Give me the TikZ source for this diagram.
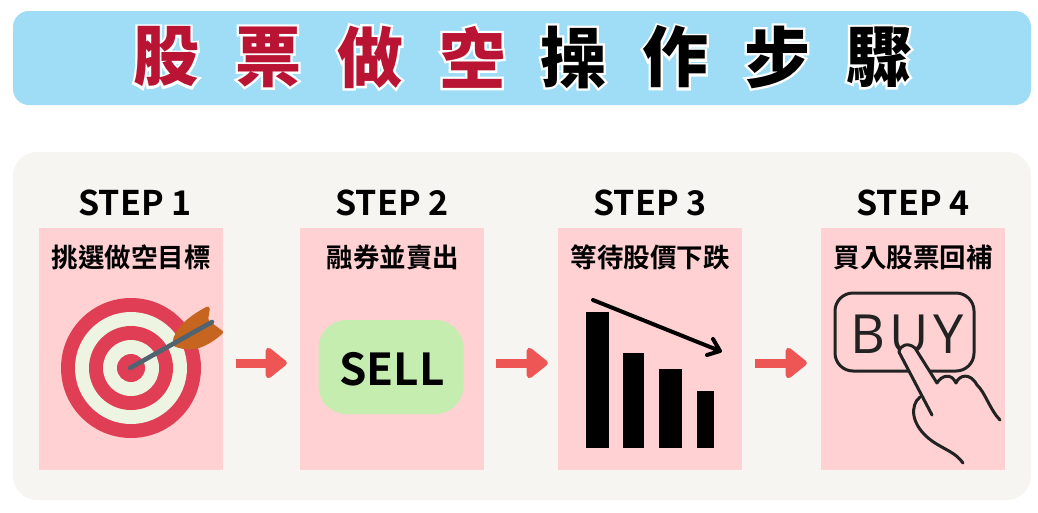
\documentclass[tikz,border=0pt]{standalone}
\usepackage{fontspec}
\usetikzlibrary{arrows.meta}
\setmainfont{Open Sans}
\newfontfamily\cjkb{Noto Sans CJK TC Bold}
\newfontfamily\cjkt{Noto Sans CJK TC Black}
\newfontfamily\cjko[FakeBold=7]{Noto Sans CJK TC Black}
\newfontfamily\buyf{Open Sans}
\definecolor{barblue}{HTML}{9FDDF7}
\definecolor{panelbg}{HTML}{F7F5F1}
\definecolor{pinkbg}{HTML}{FFD1D3}
\definecolor{crimson}{HTML}{B91433}
\definecolor{tred}{HTML}{E03E55}
\definecolor{tcream}{HTML}{EEF4E2}
\definecolor{fletch}{HTML}{C5651F}
\definecolor{shaftc}{HTML}{4F6470}
\definecolor{arrowred}{HTML}{EE5555}
\definecolor{sellg}{HTML}{C5EDB0}
\definecolor{ink}{HTML}{222222}
\tikzset{
 titlechar/.style={inner sep=0pt,font=\fontsize{66}{66}\selectfont},
 steplabel/.style={inner sep=0pt,font=\cjkb\fontsize{34}{34}\selectfont},
 cjklabel/.style={inner sep=0pt,font=\cjkb\fontsize{26.5}{26.5}\selectfont},
 pinkpanel/.style={fill=pinkbg,inner sep=0pt,minimum width=184pt,minimum height=242pt},
 flow/.style={draw=arrowred,line width=9pt,-{Triangle[length=23pt,width=35pt,round]}},
 hand/.style={draw=ink,line width=3pt,line cap=round,line join=round},
}
\newcommand{\tch}[2]{{\cjko\color{white}\rlap{#2}}{\cjkt\color{#1}#2}}
\begin{document}
\begin{tikzpicture}[x=1pt,y=-1pt]
\useasboundingbox (0,0) rectangle (1038,512);
\fill[white] (0,0) rectangle (1038,512);
\fill[barblue,rounded corners=16pt] (13,11) rectangle (1031,105);
\fill[panelbg,rounded corners=24pt] (13,152) rectangle (1031,500);
\node[titlechar] (t1) at (166,57) {\tch{crimson}{股}};
\node[titlechar] (t2) at (268,57) {\tch{crimson}{票}};
\node[titlechar] (t3) at (370,57) {\tch{crimson}{做}};
\node[titlechar] (t4) at (472,57) {\tch{crimson}{空}};
\node[titlechar] (t5) at (573,57) {\tch{black}{操}};
\node[titlechar] (t6) at (675,57) {\tch{black}{作}};
\node[titlechar] (t7) at (777,57) {\tch{black}{步}};
\node[titlechar] (t8) at (879,57) {\tch{black}{驟}};
\node[pinkpanel] (p1) at (131,349) {};
\node[pinkpanel] (p2) at (392,349) {};
\node[pinkpanel] (p3) at (650,349) {};
\node[pinkpanel] (p4) at (913,349) {};
\node[steplabel] (s1) at (135,203) {STEP 1};
\node[steplabel] (s2) at (392,203) {STEP 2};
\node[steplabel] (s3) at (650,203) {STEP 3};
\node[steplabel] (s4) at (913,203) {STEP 4};
\node[cjklabel] (l1) at (131,257) {挑選做空目標};
\node[cjklabel] (l2) at (393,257) {融券並賣出};
\node[cjklabel] (l3) at (650,257) {等待股價下跌};
\node[cjklabel] (l4) at (913,257) {買入股票回補};
% target
\fill[tred] (131,368) circle (70);
\fill[tcream] (131,368) circle (56);
\fill[tred] (131,368) circle (42);
\fill[tcream] (131,368) circle (28);
\fill[tred] (131,368) circle (14);
\fill[fletch,rounded corners=1.5pt] (173,339) .. controls (180,322) and (195,313) .. (208,306) -- (210,308) -- (208,320) -- (224,332) .. controls (214,342) and (198,351) .. (187,349) .. controls (181,349) and (175,347) .. (173,345) -- cycle;
\draw[shaftc,line width=4.6pt,line cap=round] (130,368) -- (212,322);
% arrows
\draw[flow] ([shift={(13,14)}]p1.east) -- ([shift={(-13,14)}]p2.west);
\draw[flow] ([shift={(12,14)}]p2.east) -- ([shift={(-10,14)}]p3.west);
\draw[flow] ([shift={(13,14)}]p3.east) -- ([shift={(-14,14)}]p4.west);
% sell
\node[fill=sellg,rounded corners=28pt,minimum width=145pt,minimum height=94pt,inner sep=0pt] (sell) at (391,367) {};
\node[inner sep=0pt,font=\cjkb\fontsize{44}{44}\selectfont] (selltext) at (392,369) {SELL};
% bars
\fill[black] (586,312) rectangle (609,448);
\fill[black] (623,353) rectangle (644,448);
\fill[black] (659,369) rectangle (682,448);
\fill[black] (697,391) rectangle (714,448);
\coordinate (d1) at (593,300);
\coordinate (d2) at (720,351);
\draw[black,line width=4pt,line cap=round,line join=round] (d1) -- (d2) (713,339) -- (d2) -- (707,355);
% buy
\draw[hand,rounded corners=18pt] (835,293) rectangle (974,371);
\node[inner sep=0pt,font=\buyf\fontsize{54}{54}\selectfont,text=ink] (buy) at (907,334) {B\kern4pt U\kern5pt Y};
\fill[pinkbg] (899,352) .. controls (900,345) and (908,342) .. (915,348) -- (937,383) .. controls (941,376) and (951,372) .. (956,383) .. controls (959,375) and (970,372) .. (977,385) -- (1000,420) -- (963,463) -- (920,450) -- (915,410) -- (925,400) -- cycle;
\draw[hand] (899,352) .. controls (900,345) and (908,342) .. (915,348) -- (937,383) .. controls (941,376) and (951,372) .. (956,383) .. controls (959,375) and (970,372) .. (977,385) .. controls (985,392) and (990,410) .. (1000,420);
\draw[hand] (899,352) -- (932,415);
\draw[hand] (920,397) .. controls (910,405) and (910,425) .. (932,441) .. controls (945,450) and (955,452) .. (963,463);
\end{tikzpicture}
\end{document}
